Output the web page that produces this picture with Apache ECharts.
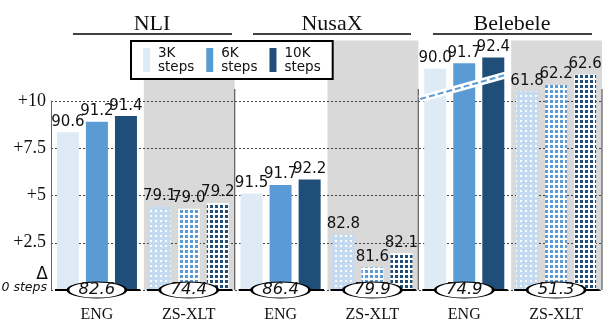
<!DOCTYPE html>
<html>
<head>
<meta charset="utf-8">
<script src="https://cdn.jsdelivr.net/npm/echarts@6/dist/echarts.min.js"></script>
<style>
  html, body { margin: 0; padding: 0; background: #fff; }
  #chart { width: 612px; height: 333px; }
</style>
</head>
<body>
<div id="chart"></div>
<script>
// groups along the x axis: ENG / ZS-XLT for each task
var categories = ['ENG', 'ZS-XLT', 'ENG', 'ZS-XLT', 'ENG', 'ZS-XLT'];
var tasks = ['NLI', 'NusaX', 'Belebele'];
var stepNames = ['3K steps', '6K steps', '10K steps'];

// score at 0 steps (in the ellipses)
var baseline = [82.6, 74.4, 86.4, 79.9, 74.9, 51.3];

// scores printed over the bars
var acc3K  = [90.6, 79.1, 91.5, 82.8, 90.0, 61.8];
var acc6K  = [91.2, 79.0, 91.7, 81.6, 91.7, 62.2];
var acc10K = [91.4, 79.2, 92.2, 82.1, 92.4, 62.6];

// bar heights as drawn (gain over 0 steps; Belebele ENG sits on a broken axis)
var delta3K  = [8.35, 4.4, 5.1, 2.95, 11.7, 10.5];
var delta6K  = [8.9, 4.3, 5.55, 1.2, 12.0, 10.85];
var delta10K = [9.2, 4.6, 5.85, 1.95, 12.3, 11.4];

var yTicks = [0, 2.5, 5, 7.5, 10];

var colors = ['#deebf7', '#5b9bd5', '#1f4e79'];
var accs = [acc3K, acc6K, acc10K];
var deltas = [delta3K, delta6K, delta10K];

// patterned look of the zero-shot bars
var zsStyles = [
  { color: '#c3daf0', decal: { symbol: 'rect', color: '#ffffff', symbolSize: 1, dashArrayX: [1.5, 2.8], dashArrayY: [1.5, 2.8] } },
  { color: '#ffffff', decal: { symbol: 'rect', color: '#5b9bd5', symbolSize: 1, dashArrayX: [2.6, 1.2], dashArrayY: [2.6, 1.2] } },
  { color: '#ffffff', decal: { symbol: 'rect', color: '#1f4e79', symbolSize: 1, dashArrayX: [2.6, 1.2], dashArrayY: [2.6, 1.2] } }
];

var chart = echarts.init(document.getElementById('chart'));

function bandInfo(api, i) {
  var p = api.coord([i, 0]);
  var bw = api.size([1, 0])[0];
  return { left: p[0] - bw / 2, right: p[0] + bw / 2, y0: p[1] };
}

var barSeries = stepNames.map(function (name, k) {
  return {
    name: name,
    type: 'bar',
    barWidth: 22,
    barGap: '32%',
    z: 2,
    clip: false,
    itemStyle: { color: colors[k] },
    label: {
      show: true,
      position: 'top',
      distance: 3,
      fontFamily: 'DejaVu Sans',
      fontSize: 15,
      color: '#111',
      formatter: function (p) { return accs[k][p.dataIndex].toFixed(1); }
    },
    data: deltas[k].map(function (v, i) {
      return i % 2 ? { value: v, itemStyle: zsStyles[k] } : v;
    })
  };
});

var option = {
  animation: false,
  grid: { left: 51, right: 10, top: 101, bottom: 43 },
  legend: {
    data: stepNames,
    left: 131,
    top: 41,
    orient: 'horizontal',
    icon: 'rect',
    itemWidth: 7,
    itemHeight: 24,
    itemGap: 12,
    padding: [5, 12, 5, 12],
    borderColor: '#000',
    borderWidth: 2,
    borderRadius: 0,
    backgroundColor: '#fff',
    formatter: function (n) { return n.replace(' ', '\n'); },
    textStyle: { fontFamily: 'DejaVu Sans', fontSize: 13.5, lineHeight: 14, color: '#111', padding: [0, 0, 0, 3] }
  },
  xAxis: {
    type: 'category',
    data: categories,
    axisLine: { show: false },
    axisTick: { show: false },
    axisLabel: { fontFamily: 'Liberation Serif', fontSize: 16, color: '#111', margin: 17 }
  },
  yAxis: {
    type: 'value',
    min: yTicks[0],
    max: yTicks[yTicks.length - 1],
    interval: 2.5,
    z: 1,
    axisLine: { show: true, lineStyle: { color: '#666', width: 1 } },
    axisTick: { show: false },
    axisLabel: {
      fontFamily: 'Liberation Serif', fontSize: 18, color: '#111', margin: 5,
      formatter: function (v) { return v === 0 ? '' : '+' + v; }
    },
    splitLine: { lineStyle: { color: '#444', width: 1, type: [2, 2] } }
  },
  graphic: [
    { type: 'text', x: 152, y: 24, style: { text: tasks[0], fontFamily: 'Liberation Serif', fontSize: 22, fill: '#111', align: 'center', verticalAlign: 'middle' } },
    { type: 'text', x: 332, y: 24, style: { text: tasks[1], fontFamily: 'Liberation Serif', fontSize: 22, fill: '#111', align: 'center', verticalAlign: 'middle' } },
    { type: 'text', x: 512, y: 24, style: { text: tasks[2], fontFamily: 'Liberation Serif', fontSize: 22, fill: '#111', align: 'center', verticalAlign: 'middle' } },
    { type: 'line', shape: { x1: 73, y1: 34, x2: 232, y2: 34 }, style: { stroke: '#000', lineWidth: 1.5 } },
    { type: 'line', shape: { x1: 253, y1: 34, x2: 411, y2: 34 }, style: { stroke: '#000', lineWidth: 1.5 } },
    { type: 'line', shape: { x1: 433, y1: 34, x2: 592, y2: 34 }, style: { stroke: '#000', lineWidth: 1.5 } },
    { type: 'text', x: 48, y: 275, style: { text: 'Δ', fontFamily: 'DejaVu Sans', fontSize: 17, fill: '#111', align: 'right', verticalAlign: 'middle' } },
    { type: 'text', x: 47, y: 288, style: { text: '0 steps', fontFamily: 'DejaVu Sans', fontStyle: 'italic', fontSize: 12.5, fill: '#111', align: 'right', verticalAlign: 'middle' } }
  ],
  series: [
    {
      // grey panels behind the zero-shot groups
      type: 'custom',
      z: 0,
      silent: true,
      encode: { x: 0, y: 1 },
      data: categories.map(function (c, i) { return [i, 0]; }),
      renderItem: function (params, api) {
        var i = api.value(0);
        if (i % 2 === 0) return { type: 'group', children: [] };
        var b = bandInfo(api, i);
        var top = api.coord([i, 13.2])[1];
        return { type: 'rect', shape: { x: b.left + 1, y: top, width: b.right - b.left - 1, height: b.y0 - top }, style: { fill: '#d9d9d9' } };
      }
    }
  ].concat(barSeries).concat([
    {
      // baseline segments, panel separators, axis break
      type: 'custom',
      z: 3,
      silent: true,
      clip: false,
      encode: { x: 0, y: 1 },
      data: categories.map(function (c, i) { return [i, 0]; }),
      renderItem: function (params, api) {
        var i = api.value(0);
        var b = bandInfo(api, i);
        var kids = [];
        kids.push({ type: 'line', shape: { x1: b.left + 4, y1: b.y0, x2: b.right - 2.5, y2: b.y0 }, style: { stroke: '#000', lineWidth: 2 } });
        if (i % 2 === 1) {
          var t = api.coord([i, 10.64])[1];
          kids.push({ type: 'line', shape: { x1: b.right, y1: t, x2: b.right, y2: b.y0 }, style: { stroke: '#666', lineWidth: 1.3 } });
        }
        if (i === 4) {
          var ya = api.coord([i, 10.12])[1];
          var yb = api.coord([i, 11.39])[1];
          kids.push({ type: 'line', shape: { x1: b.left + 1, y1: ya + 0.3, x2: b.right - 3, y2: yb }, style: { stroke: '#fff', lineWidth: 7 } });
          kids.push({ type: 'line', shape: { x1: b.left + 2, y1: ya + 0.3, x2: b.right - 4, y2: yb }, style: { stroke: '#5b9bd5', lineWidth: 2, lineDash: [6, 3] } });
        }
        return { type: 'group', children: kids };
      }
    },
    {
      // 0-step scores in ellipses
      type: 'scatter',
      z: 4,
      silent: true,
      clip: false,
      symbol: 'path://M0 10A30 10 0 1 0 60 10A30 10 0 1 0 0 10Z',
      symbolSize: [58, 16],
      itemStyle: { color: '#fff', borderColor: '#000', borderWidth: 1.5, opacity: 1 },
      label: {
        show: true,
        position: 'inside',
        fontFamily: 'DejaVu Sans',
        fontStyle: 'italic',
        fontSize: 16.5,
        color: '#111',
        formatter: function (p) { return p.value[2].toFixed(1); }
      },
      encode: { x: 0, y: 1 },
      data: baseline.map(function (v, i) { return [i, 0, v]; })
    }
  ])
};

chart.setOption(option);
</script>
</body>
</html>
